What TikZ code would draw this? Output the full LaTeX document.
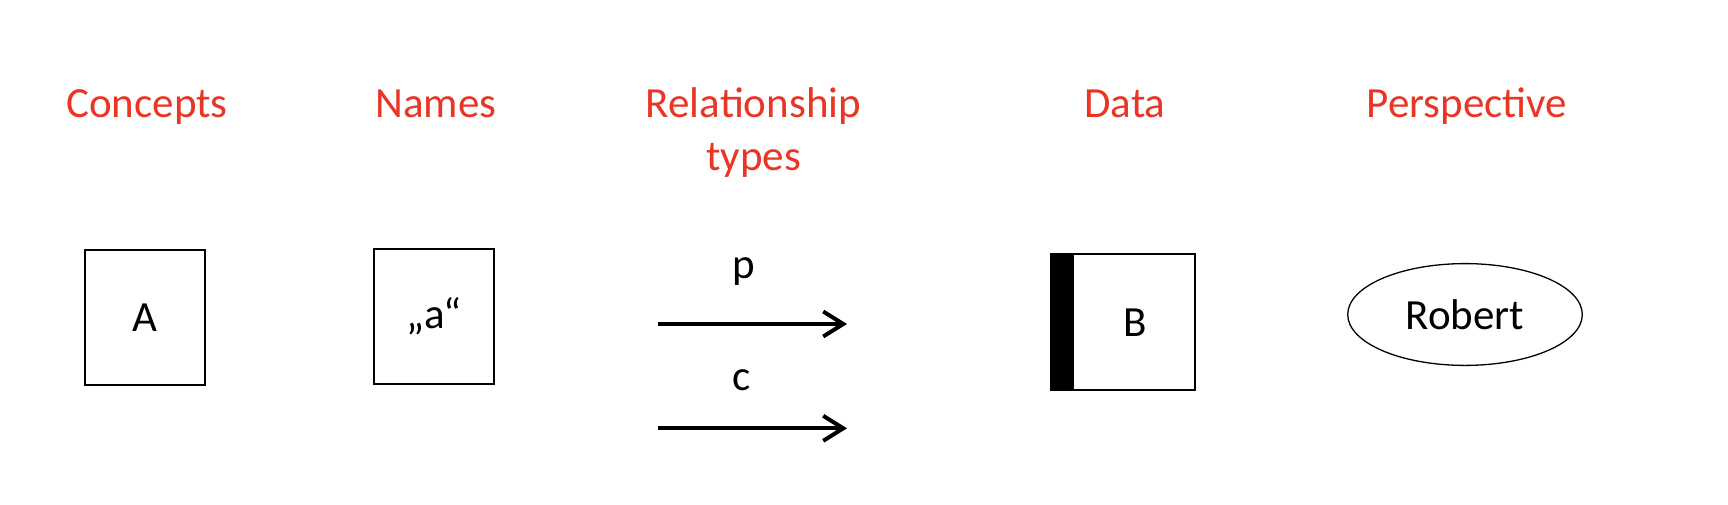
\documentclass[tikz,border=0pt]{standalone}
\usepackage{fontspec}
\setmainfont{Carlito}
\usepackage{tikz}
\usetikzlibrary{shapes.geometric,arrows.meta}
\definecolor{titlered}{RGB}{234,52,36}
\tikzstyle{title node} = [text=titlered,inner sep=0,anchor=base,align=center]
\tikzstyle{box node}   = [rectangle,draw,line width=1pt,inner sep=0,minimum width=60pt,minimum height=67.5pt]
\tikzstyle{data node}  = [rectangle,draw,line width=1pt,inner sep=0,minimum width=72pt,minimum height=68pt]
\tikzstyle{view node}  = [ellipse,draw,line width=0.65pt,inner sep=0,minimum width=117.3pt,minimum height=50.9pt]
\tikzstyle{rel arrow}  = [line width=2pt,-{Straight Barb[length=10pt,width=12.5pt]}]
\tikzstyle{rel label}  = [inner sep=0,anchor=base]

\begin{document}
\begin{tikzpicture}[x=0.5pt,y=-0.5pt,
                    font=\fontsize{21.5}{26.25}\selectfont
                    ]
\useasboundingbox (0,0) rectangle (1728,504);

    % Headings (base of a two-line node is its last line)
    \node(concepts)[title node] at (147,117.5) {Concepts};
    \node(names)[title node] at (436,117.5) {Names};
    \node(reltypes)[title node] at (753.5,170) {Relationship\\types};
    \node(data)[title node] at (1125,117.5) {Data};
    \node(persp)[title node] at (1467,117.5) {Perspective};

    % Concept and name
    \node(A)[box node] at (145,317.5) {A};
    \node(a)[box node] at (434,316.2) {„a“};

    % Relationship types
    \coordinate(p-from) at (658,324);
    \coordinate(p-to) at (847,324);
    \coordinate(c-from) at (658,428.3);
    \coordinate(c-to) at (847,428.3);
    \draw[rel arrow](p-from)--(p-to);
    \draw[rel arrow](c-from)--(c-to);
    \node(p)[rel label] at (744,278) {p};
    \node(c)[rel label] at (742,390) {c};

    % Data, with the black bar on its left side
    \node(B)[data node, label={[xshift=6.25pt]center:B}] at (1123,322.2) {};
    \fill (B.north west) rectangle ([xshift=12pt]B.south west);

    % Perspective
    \node(robert)[view node] at (1465,314.5) {Robert};

\end{tikzpicture}
\end{document}
